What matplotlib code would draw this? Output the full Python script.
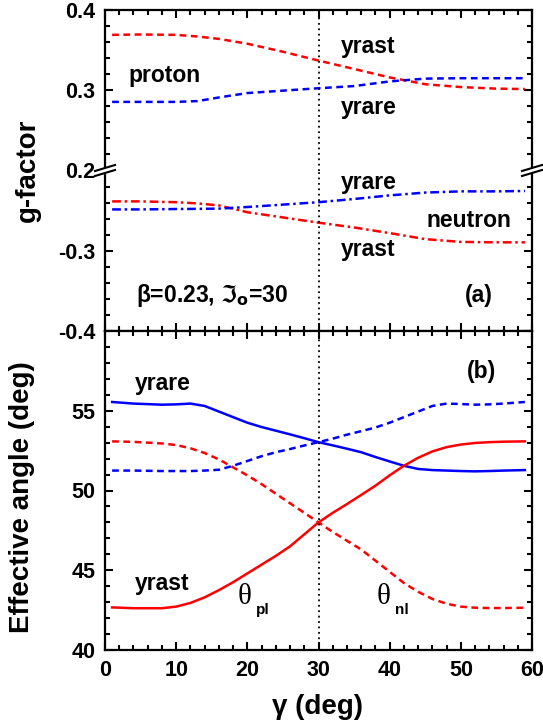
import matplotlib
matplotlib.use('Agg')
import matplotlib.pyplot as plt
from matplotlib.ticker import MultipleLocator, FixedLocator
from matplotlib.patches import Polygon
from matplotlib.lines import Line2D

plt.rcParams['font.family'] = ['Liberation Sans', 'DejaVu Sans']
plt.rcParams['font.weight'] = 'bold'
plt.rcParams['axes.linewidth'] = 1.6

# panel (a): g-factors vs gamma
gam_a = [1, 5, 10, 13, 16, 20, 25, 30, 35, 40, 45, 50, 55, 59]
g_p_yrast = [0.369, 0.3695, 0.369, 0.367, 0.364, 0.358, 0.348, 0.337, 0.3265, 0.316, 0.3075, 0.304, 0.302, 0.3015]
g_p_yrare = [0.2855, 0.2855, 0.2855, 0.2865, 0.291, 0.2965, 0.2995, 0.3025, 0.3052, 0.311, 0.3145, 0.315, 0.315, 0.315]
g_n_yrast = [-0.2385, -0.2385, -0.2395, -0.241, -0.2435, -0.252, -0.2585, -0.265, -0.271, -0.278, -0.2855, -0.289, -0.2895, -0.2895]
g_n_yrare = [-0.2485, -0.2485, -0.248, -0.2478, -0.2475, -0.2455, -0.2425, -0.2395, -0.2355, -0.231, -0.2275, -0.226, -0.226, -0.2255]

# panel (b): effective angles vs gamma
gam_b = [1, 4, 8, 10, 12, 14, 16, 18, 20, 22, 24, 26, 28, 30, 32, 34, 36, 38, 40, 42, 44, 46, 48, 50, 52, 54, 56, 59]
th_p_yrare = [55.55, 55.45, 55.38, 55.4, 55.45, 55.3, 54.95, 54.6, 54.25, 53.98, 53.75, 53.52, 53.28, 53.03,
              52.83, 52.62, 52.4, 52.1, 51.82, 51.55, 51.35, 51.28, 51.25, 51.22, 51.2, 51.22, 51.25, 51.28]
th_n_yrare = [51.25, 51.25, 51.22, 51.22, 51.22, 51.25, 51.3, 51.55, 51.85, 52.15, 52.4, 52.6, 52.82, 53.03,
              53.25, 53.5, 53.72, 53.95, 54.25, 54.6, 54.95, 55.3, 55.45, 55.42, 55.38, 55.4, 55.45, 55.55]
th_p_yrast = [42.67, 42.62, 42.62, 42.72, 42.95, 43.3, 43.75, 44.25, 44.8, 45.35, 45.9, 46.5, 47.25, 48.0,
              48.6, 49.15, 49.72, 50.3, 50.95, 51.55, 52.05, 52.45, 52.72, 52.88, 52.98, 53.03, 53.06, 53.08]
th_n_yrast = [53.08, 53.05, 52.95, 52.85, 52.65, 52.35, 51.95, 51.45, 50.95, 50.4, 49.8, 49.2, 48.6, 48.0,
              47.4, 46.85, 46.3, 45.6, 44.9, 44.2, 43.65, 43.2, 42.9, 42.72, 42.65, 42.63, 42.63, 42.65]

fig = plt.figure(figsize=(5.43, 7.28), dpi=100)
L, W = 105 / 543, 427 / 543
ax_up = fig.add_axes([L, 1 - 170.5 / 728, W, 160.5 / 728])
ax_lo = fig.add_axes([L, 1 - 331 / 728, W, 160.5 / 728])
ax_b = fig.add_axes([L, 1 - 650 / 728, W, 319 / 728])

dash = (0, (2.7, 1.8))
dashdot = (0, (3.5, 1.5, 1.0, 1.5))
lw = 1.8

ax_up.plot(gam_a, g_p_yrast, color='red', ls=dash, lw=lw)
ax_up.plot(gam_a, g_p_yrare, color='blue', ls=dash, lw=lw)
ax_lo.plot(gam_a, g_n_yrast, color='red', ls=dashdot, lw=lw)
ax_lo.plot(gam_a, g_n_yrare, color='blue', ls=dashdot, lw=lw)

ax_b.plot(gam_b, th_p_yrare, color='blue', lw=lw)
ax_b.plot(gam_b, th_n_yrare, color='blue', ls=dash, lw=lw)
ax_b.plot(gam_b, th_p_yrast, color='red', lw=lw)
ax_b.plot(gam_b, th_n_yrast, color='red', ls=dash, lw=lw)

for ax in (ax_up, ax_lo, ax_b):
    ax.set_xlim(0, 60)
    ax.axvline(30, color='k', ls=(0, (1, 2)), lw=1.3)
    ax.xaxis.set_major_locator(MultipleLocator(10))
    ax.xaxis.set_minor_locator(MultipleLocator(2))
    ax.tick_params(which='both', direction='in', width=1.5, labelsize=15.5,
                   top=True, right=True, pad=7)
    ax.tick_params(which='major', length=6)
    ax.tick_params(which='minor', length=3.5)

ax_up.set_ylim(0.2, 0.4)
ax_up.yaxis.set_major_locator(FixedLocator([0.2, 0.3, 0.4]))
ax_up.yaxis.set_minor_locator(MultipleLocator(0.02))
ax_up.set_yticklabels(['0.2', '0.3', '0.4'])
ax_up.spines['bottom'].set_visible(False)
ax_up.tick_params(which='both', bottom=False, labelbottom=False)

ax_lo.set_ylim(-0.4, -0.2)
ax_lo.yaxis.set_major_locator(FixedLocator([-0.4, -0.3]))
ax_lo.yaxis.set_minor_locator(MultipleLocator(0.02))
ax_lo.set_yticklabels(['-0.4', '-0.3'])
ax_lo.spines['top'].set_visible(False)
ax_lo.tick_params(which='both', top=False, labelbottom=False)

ax_b.set_ylim(40, 60)
ax_b.yaxis.set_major_locator(FixedLocator([40, 45, 50, 55]))
ax_b.yaxis.set_minor_locator(MultipleLocator(1))

# axis break marks
yb = 1 - 170.5 / 728
for xs in (L, L + W):
    dx, dy, sep = 10 / 543, 3 / 728, 2.5 / 728
    fig.add_artist(Polygon([[xs - dx, yb - dy - sep], [xs + dx, yb + dy - sep],
                            [xs + dx, yb + dy + sep], [xs - dx, yb - dy + sep]],
                           closed=True, transform=fig.transFigure, facecolor='white',
                           edgecolor='none', zorder=10))
    for s in (-sep, sep):
        fig.add_artist(Line2D([xs - dx, xs + dx], [yb - dy + s, yb + dy + s],
                              transform=fig.transFigure, color='k', lw=1.5, zorder=11))

# annotations
fs = 16.5
ax_up.text(3.3, 0.319, 'proton', fontsize=fs, va='center')
ax_up.text(33.2, 0.354, 'yrast', fontsize=fs, va='center')
ax_up.text(33.2, 0.278, 'yrare', fontsize=fs, va='center')
ax_lo.text(33.2, -0.2145, 'yrare', fontsize=fs, va='center')
ax_lo.text(45.2, -0.262, 'neutron', fontsize=fs, va='center')
ax_lo.text(33.2, -0.299, 'yrast', fontsize=fs, va='center')
ax_lo.text(4.4, -0.356, 'β=0.23, $\\Im_{\\rm o}$=30', fontsize=fs, va='center')
ax_lo.text(50.6, -0.356, '(a)', fontsize=fs, va='center')

ax_b.text(50.8, 57.45, '(b)', fontsize=fs, va='center')
ax_b.text(4.2, 56.7, 'yrare', fontsize=fs, va='center')
ax_b.text(4.2, 44.2, 'yrast', fontsize=fs, va='center')
ax_b.text(18.7, 43.3, 'θ', fontsize=21, va='center', family='Liberation Serif', fontweight='normal')
ax_b.text(21.2, 42.5, 'pl', fontsize=11, va='center')
ax_b.text(38.2, 43.3, 'θ', fontsize=21, va='center', family='Liberation Serif', fontweight='normal')
ax_b.text(40.7, 42.5, 'nl', fontsize=11, va='center')

fig.text(27.5 / 543, 1 - 170.5 / 728, 'g-factor', rotation=90, fontsize=20, ha='center', va='center')
fig.text(22 / 543, 1 - 496.7 / 728, 'Effective angle (deg)', rotation=90, fontsize=20, ha='center', va='center')
fig.text(317.5 / 543, 1 - 706.7 / 728, 'γ (deg)', fontsize=20, ha='center', va='center')

fig.savefig('out.png', dpi=100)
